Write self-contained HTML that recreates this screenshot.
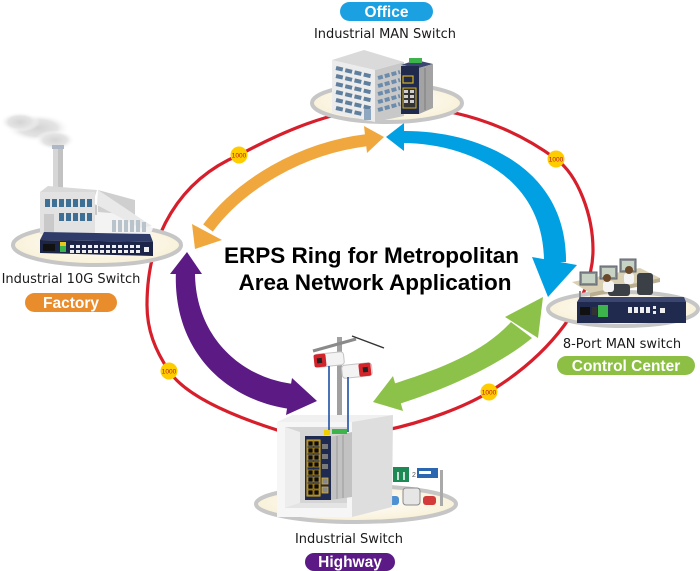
<!DOCTYPE html>
<html><head><meta charset="utf-8">
<style>
html,body{margin:0;padding:0;background:#fff;}
svg{display:block;}
.lbl{font-family:"DejaVu Sans","Liberation Sans",sans-serif;font-size:13px;fill:#1a1a1a;}
.pill{font-family:"Liberation Sans",sans-serif;font-weight:bold;font-size:15.5px;fill:#fff;}
.title{font-family:"Liberation Sans",sans-serif;font-weight:bold;font-size:22.5px;fill:#000;}
.b{font-family:"Liberation Sans",sans-serif;font-size:6.5px;fill:#c1121f;}
</style></head><body>
<svg width="700" height="571" viewBox="0 0 700 571" xmlns="http://www.w3.org/2000/svg">
<defs>
<radialGradient id="plat" cx="50%" cy="45%" r="55%">
<stop offset="0" stop-color="#ffffff"/><stop offset="1" stop-color="#f8f0d6"/>
</radialGradient>
<radialGradient id="smoke" cx="50%" cy="50%" r="50%">
<stop offset="0" stop-color="#d4d4d4"/><stop offset="0.6" stop-color="#e4e4e4"/><stop offset="1" stop-color="#ffffff" stop-opacity="0"/>
</radialGradient>
</defs>
<rect width="700" height="571" fill="#fff"/>

<!-- red ring -->
<path d="M147,305 C147,235 180,180 239,155 C280,133 330,110 385,107 C450,104 510,125 556,159 C578,175 593,215 593,250 C593,300 550,355 489,392 C440,422 330,452 277,430 C230,415 185,395 169,371 C155,350 147,330 147,305 Z" fill="none" stroke="#d71f2c" stroke-width="3.2"/>

<!-- badges -->
<g>
<circle cx="239" cy="155" r="8.5" fill="#ffcc00"/><text class="b" x="239" y="157.5" text-anchor="middle">1000</text>
<circle cx="556" cy="159" r="8.5" fill="#ffcc00"/><text class="b" x="556" y="161.5" text-anchor="middle">1000</text>
<circle cx="169" cy="371" r="8.5" fill="#ffcc00"/><text class="b" x="169" y="373.5" text-anchor="middle">1000</text>
<circle cx="489" cy="392" r="8.5" fill="#ffcc00"/><text class="b" x="489" y="394.5" text-anchor="middle">1000</text>
</g>

<!-- orange arrow -->
<path d="M368,140 C300,148 240,185 208,228" fill="none" stroke="#f0a83e" stroke-width="12"/>
<polygon points="384,137 364,126 367,153" fill="#f0a83e"/>
<polygon points="195,249 192,224 222,240" fill="#f0a83e"/>

<!-- blue arrow -->
<path d="M402,131 C475,130 567,165 566,262 L544,262 C544,175 465,143 402,143 Z" fill="#00a0e3"/>
<polygon points="386,137 404,123 404,151" fill="#00a0e3"/>
<polygon points="532,257 577,265 548,297" fill="#00a0e3"/>

<!-- purple arrow -->
<path d="M176,270 C172,350 225,400 290,409 L294,384 C240,378 194,335 195,270 Z" fill="#5c1a84"/>
<polygon points="187,252 170,274 202,274" fill="#5c1a84"/>
<polygon points="317,401 292,378 286,415" fill="#5c1a84"/>

<!-- green arrow -->
<path d="M393,384 C437,370 483,353 511,322 L532,338 C497,367 443,390 399,404 Z" fill="#8dc24a"/>
<polygon points="543,297 505,317 538,338" fill="#8dc24a"/>
<polygon points="373,402 393,376 403,411" fill="#8dc24a"/>

<!-- title -->
<text class="title" x="371.5" y="263" text-anchor="middle">ERPS Ring for Metropolitan</text>
<text class="title" x="375" y="290" text-anchor="middle">Area Network Application</text>

<!-- ===== OFFICE ===== -->
<ellipse cx="387" cy="103" rx="75" ry="19" fill="url(#plat)" stroke="#c6c6c6" stroke-width="4"/>
<polygon points="332,60 375,70 375,122 332,113" fill="#ececec"/>
<polygon points="375,70 404,62 404,116 375,122" fill="#c8c8c8"/>
<polygon points="332,60 364,50 404,62 375,70" fill="#dadada"/>
<g stroke="#5f7f9d" stroke-width="4" stroke-dasharray="7,2.5">
<line x1="336" y1="68" x2="372" y2="76.5"/>
<line x1="336" y1="76" x2="372" y2="84.5"/>
<line x1="336" y1="84" x2="372" y2="92.5"/>
<line x1="336" y1="92" x2="372" y2="100.5"/>
<line x1="336" y1="100" x2="372" y2="108.5"/>
<line x1="336" y1="108" x2="362" y2="114"/>
</g>
<g stroke="#6d8cab" stroke-width="4" stroke-dasharray="5,2">
<line x1="378" y1="78" x2="400" y2="72"/>
<line x1="378" y1="86" x2="400" y2="80"/>
<line x1="378" y1="94" x2="400" y2="88"/>
<line x1="378" y1="102" x2="400" y2="96"/>
<line x1="378" y1="110" x2="400" y2="104"/>
</g>
<rect x="364" y="109" width="7" height="11" fill="#8ea8c2"/>
<!-- office switch -->
<polygon points="401,65 416,60 433,64 419,68" fill="#3a4570"/>
<rect x="401" y="66" width="18" height="48" fill="#1f2a4c"/>
<polygon points="419,68 433,64 433,108 419,114" fill="#a3a3a3"/>
<line x1="425" y1="68" x2="425" y2="110" stroke="#7d7d7d" stroke-width="1"/>
<rect x="409" y="58" width="13" height="5" fill="#3cb44b"/>
<rect x="403" y="76" width="10" height="7" fill="none" stroke="#d4b020" stroke-width="1.2"/>
<rect x="403" y="88" width="13" height="20" fill="#333" stroke="#d4b020" stroke-width="1"/>
<g fill="#cfcfcf"><rect x="404" y="90" width="4" height="3"/><rect x="410" y="90" width="4" height="3"/><rect x="404" y="95" width="4" height="3"/><rect x="410" y="95" width="4" height="3"/><rect x="404" y="100" width="4" height="3"/><rect x="410" y="100" width="4" height="3"/></g>

<!-- ===== FACTORY ===== -->
<ellipse cx="38" cy="128" rx="32" ry="14" fill="url(#smoke)"/>
<ellipse cx="55" cy="140" rx="20" ry="10" fill="url(#smoke)"/>
<ellipse cx="20" cy="122" rx="20" ry="10" fill="url(#smoke)"/>
<ellipse cx="97" cy="245" rx="84" ry="20" fill="url(#plat)" stroke="#c6c6c6" stroke-width="4"/>
<rect x="53" y="148" width="10" height="48" fill="#d6d6d6"/>
<rect x="58" y="148" width="5" height="48" fill="#c2c2c2"/>
<rect x="52" y="145" width="12" height="4" fill="#aeb8c4"/>
<!-- sawtooth -->
<polygon points="63,198 97,206 153,228 150,236 63,236" fill="#f3f3f3"/>
<polygon points="63,196 97,205 97,215 63,213" fill="#c9c9c9"/>
<polygon points="98,190 135,200 135,215 98,212" fill="#cfcfcf"/>
<polygon points="97,205 98,190 152,226 140,228" fill="#e9e9e9"/>
<g fill="#b9c3cc"><rect x="112" y="220" width="4" height="12"/><rect x="118" y="220" width="4" height="12"/><rect x="124" y="220" width="4" height="12"/><rect x="130" y="220" width="4" height="12"/><rect x="136" y="220" width="4" height="12"/><rect x="142" y="222" width="4" height="10"/></g>
<polygon points="40,192 48,186 97,190 95,196" fill="#d9d9d9"/>
<rect x="40" y="192" width="55" height="42" fill="#e2e2e2"/>
<g fill="#3e6f94">
<rect x="45" y="199" width="5" height="8"/><rect x="52" y="199" width="5" height="8"/><rect x="59" y="199" width="5" height="8"/><rect x="66" y="199" width="5" height="8"/><rect x="73" y="199" width="5" height="8"/><rect x="80" y="199" width="5" height="8"/><rect x="87" y="199" width="5" height="8"/>
<rect x="59" y="213" width="5" height="8"/><rect x="66" y="213" width="5" height="8"/><rect x="73" y="213" width="5" height="8"/><rect x="80" y="213" width="5" height="8"/><rect x="87" y="213" width="5" height="8"/>
</g>
<rect x="44" y="214" width="10" height="18" fill="#c9c9c9"/>
<!-- factory switch -->
<polygon points="44,232 150,234 153,242 40,240" fill="#2f3b68"/>
<polygon points="40,240 153,242 153,256 40,253" fill="#1c2547"/>
<rect x="43" y="244" width="12" height="7" fill="#111"/>
<rect x="60" y="242" width="6" height="10" fill="#3cb44b"/>
<rect x="60" y="242" width="6" height="4" fill="#e8c61c"/>
<g fill="#eeeeee">
<rect x="70" y="245" width="4" height="3"/><rect x="76" y="245" width="4" height="3"/><rect x="82" y="245" width="4" height="3"/><rect x="88" y="245" width="4" height="3"/><rect x="94" y="245" width="4" height="3"/><rect x="100" y="245" width="4" height="3"/><rect x="106" y="245" width="4" height="3"/><rect x="112" y="245" width="4" height="3"/><rect x="118" y="245" width="4" height="3"/><rect x="124" y="245" width="4" height="3"/><rect x="130" y="245" width="4" height="3"/><rect x="136" y="245" width="4" height="3"/>
<rect x="70" y="250" width="4" height="3"/><rect x="76" y="250" width="4" height="3"/><rect x="82" y="250" width="4" height="3"/><rect x="88" y="250" width="4" height="3"/><rect x="94" y="250" width="4" height="3"/><rect x="100" y="250" width="4" height="3"/><rect x="106" y="250" width="4" height="3"/><rect x="112" y="250" width="4" height="3"/><rect x="118" y="250" width="4" height="3"/><rect x="124" y="250" width="4" height="3"/><rect x="130" y="250" width="4" height="3"/><rect x="136" y="250" width="4" height="3"/>
<rect x="144" y="247" width="5" height="5"/>
</g>

<!-- ===== CONTROL CENTER ===== -->
<ellipse cx="623" cy="309" rx="75" ry="17" fill="url(#plat)" stroke="#c6c6c6" stroke-width="4"/>
<polygon points="572,282 640,268 660,278 590,293" fill="#d9cfb2"/>
<polygon points="590,293 660,278 660,282 590,297" fill="#b9ae90"/>
<line x1="580" y1="291" x2="580" y2="305" stroke="#888" stroke-width="2"/>
<g fill="#8a8f96" stroke="#5d6168" stroke-width="1">
<rect x="580" y="272" width="17" height="13"/>
<rect x="600" y="266" width="17" height="13"/>
<rect x="620" y="259" width="16" height="13"/>
</g>
<g fill="#c7d3c4"><rect x="582" y="274" width="13" height="9"/><rect x="602" y="268" width="13" height="9"/><rect x="622" y="261" width="12" height="9"/></g>
<g fill="#3b3f46">
<rect x="608" y="284" width="22" height="12" rx="3"/>
<rect x="637" y="273" width="16" height="22" rx="3"/>
</g>
<g>
<rect x="603" y="281" width="11" height="11" rx="3" fill="#f4f4f4"/>
<circle cx="607" cy="278" r="4" fill="#6b4a2b"/>
<rect x="624" y="273" width="10" height="11" rx="3" fill="#f4f4f4"/>
<circle cx="629" cy="270" r="4" fill="#6b4a2b"/>
</g>
<!-- cc switch -->
<polygon points="580,297 684,297 686,302 577,302" fill="#3a4570"/>
<rect x="577" y="302" width="109" height="21" fill="#1f2a4e"/>
<rect x="580" y="307" width="10" height="8" fill="#111"/>
<rect x="592" y="307" width="5" height="8" fill="#333"/>
<rect x="598" y="305" width="10" height="12" fill="#3cb44b"/>
<g fill="#eeeeee"><rect x="628" y="307" width="4" height="6"/><rect x="634" y="307" width="4" height="6"/><rect x="640" y="307" width="4" height="6"/><rect x="646" y="307" width="4" height="6"/><rect x="653" y="306" width="3" height="3"/><rect x="653" y="311" width="3" height="3"/><rect x="660" y="308" width="5" height="5"/></g>

<!-- ===== HIGHWAY ===== -->
<ellipse cx="356" cy="504" rx="100" ry="18" fill="url(#plat)" stroke="#c6c6c6" stroke-width="4"/>
<!-- signs and cars -->
<rect x="440" y="470" width="3" height="36" fill="#a9a9a9"/>
<rect x="393" y="467" width="16" height="15" fill="#1d8a55"/>
<path d="M398,480 L398,472 M404,480 L404,472" stroke="#fff" stroke-width="1.5"/>
<text x="412" y="477" font-family="Liberation Sans,sans-serif" font-size="7" fill="#555">2</text>
<rect x="417" y="468" width="21" height="10" fill="#2a67b0"/>
<rect x="419" y="471" width="12" height="3" fill="#fff"/>
<rect x="386" y="496" width="13" height="9" rx="3" fill="#4d91d2"/>
<rect x="403" y="488" width="17" height="17" rx="3" fill="#e6e6e6" stroke="#8a8a8a" stroke-width="1"/>
<rect x="423" y="496" width="13" height="9" rx="3" fill="#d33a3a"/>
<!-- pole & cameras -->
<rect x="337" y="337" width="5" height="82" fill="#a0a0a0"/>
<line x1="313" y1="351" x2="356" y2="339" stroke="#8a8a8a" stroke-width="3"/>
<line x1="352" y1="336" x2="384" y2="348" stroke="#333" stroke-width="1.3"/>
<g transform="rotate(-6 330 360)">
<rect x="315" y="353" width="29" height="13" rx="3" fill="#f3f3f3" stroke="#c4c4c4" stroke-width="1"/>
<rect x="314" y="353" width="12" height="13" rx="2" fill="#d3232b"/>
<rect x="317" y="357" width="5" height="5" fill="#222"/>
</g>
<g transform="rotate(-6 357 371)">
<rect x="342" y="364" width="30" height="13" rx="3" fill="#f3f3f3" stroke="#c4c4c4" stroke-width="1"/>
<rect x="359" y="364" width="12" height="13" rx="2" fill="#d3232b"/>
<rect x="363" y="368" width="5" height="5" fill="#222"/>
</g>
<!-- cube -->
<polygon points="277,422 292,415 393,415 380,422" fill="#f0f0f0"/>
<polygon points="352,422 393,415 392,507 352,517" fill="#dedede"/>
<rect x="277" y="422" width="75" height="95" fill="#f6f6f6"/>
<rect x="285" y="427" width="62" height="81" fill="#d5d5d5"/>
<polygon points="285,427 300,432 300,503 285,508" fill="#ededed"/>
<polygon points="285,508 300,503 347,503 347,508" fill="#e4e4e4"/>
<line x1="329" y1="366" x2="329" y2="432" stroke="#1d4fa5" stroke-width="1.6"/>
<line x1="348" y1="377" x2="348" y2="432" stroke="#1d4fa5" stroke-width="1.6"/>
<!-- switch in box -->
<polygon points="330,437 352,432 352,497 330,500" fill="#c2c2c2"/>
<g stroke="#9a9a9a" stroke-width="1"><line x1="337" y1="436" x2="337" y2="499"/><line x1="343" y1="435" x2="343" y2="498"/></g>
<rect x="305" y="436" width="26" height="64" fill="#1e2a4f"/>
<rect x="324" y="430" width="6" height="5" fill="#f0d000"/>
<rect x="332" y="429" width="15" height="5" fill="#3cb44b"/>
<rect x="307" y="440" width="13" height="56" fill="none" stroke="#d9a91f" stroke-width="1"/>
<g fill="#0c0c0c" stroke="#d9a91f" stroke-width="0.6">
<rect x="308" y="441" width="5" height="5"/><rect x="314" y="441" width="5" height="5"/>
<rect x="308" y="448" width="5" height="5"/><rect x="314" y="448" width="5" height="5"/>
<rect x="308" y="455" width="5" height="5"/><rect x="314" y="455" width="5" height="5"/>
<rect x="308" y="462" width="5" height="5"/><rect x="314" y="462" width="5" height="5"/>
<rect x="308" y="470" width="5" height="5"/><rect x="314" y="470" width="5" height="5"/>
<rect x="308" y="477" width="5" height="5"/><rect x="314" y="477" width="5" height="5"/>
<rect x="308" y="484" width="5" height="5"/><rect x="314" y="484" width="5" height="5"/>
<rect x="308" y="490" width="5" height="5"/><rect x="314" y="490" width="5" height="5"/>
</g>
<g fill="#7a7a7a"><rect x="322" y="444" width="6" height="5"/><rect x="322" y="454" width="6" height="5"/><rect x="322" y="464" width="6" height="5"/></g>
<g fill="#888" stroke="#e0b020" stroke-width="0.8"><rect x="322" y="478" width="6" height="6"/><rect x="322" y="487" width="6" height="6"/></g>

<!-- labels -->
<text class="lbl" x="385" y="38" text-anchor="middle">Industrial MAN Switch</text>
<text class="lbl" x="71" y="283" text-anchor="middle">Industrial 10G Switch</text>
<text class="lbl" x="622" y="348" text-anchor="middle">8-Port MAN switch</text>
<text class="lbl" x="349" y="543" text-anchor="middle">Industrial Switch</text>

<!-- pills -->
<rect x="340" y="2" width="93" height="19" rx="9.5" fill="#1ba1e2"/>
<text class="pill" x="386.5" y="17" text-anchor="middle">Office</text>
<rect x="25" y="293" width="92" height="19" rx="9.5" fill="#e98c2b"/>
<text class="pill" x="71" y="308" text-anchor="middle">Factory</text>
<rect x="557" y="356" width="138" height="19" rx="9.5" fill="#8cbf44"/>
<text class="pill" x="626" y="371" text-anchor="middle">Control Center</text>
<rect x="305" y="553" width="90" height="18" rx="9" fill="#5b1a86"/>
<text class="pill" x="350" y="567" text-anchor="middle">Highway</text>
</svg>
</body></html>
